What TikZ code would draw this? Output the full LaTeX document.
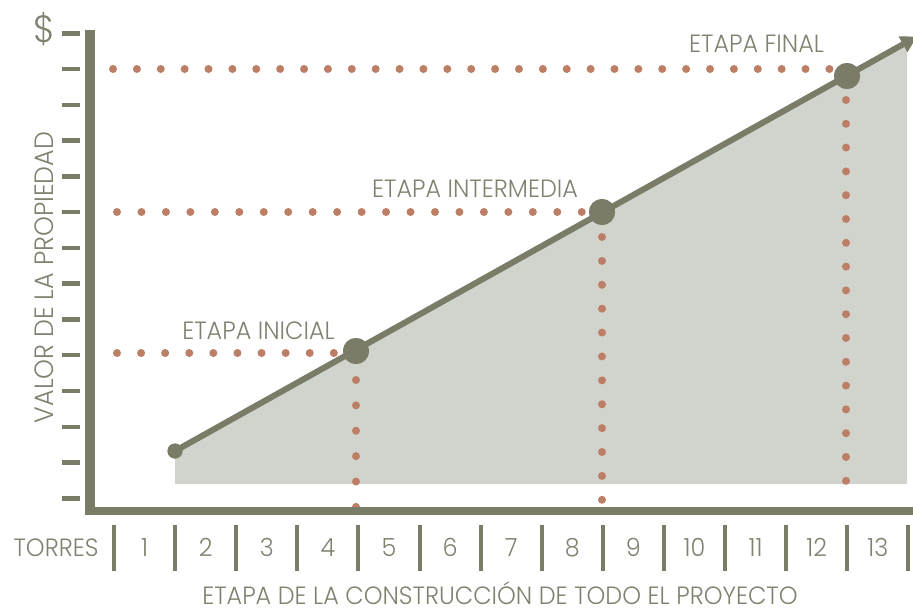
\documentclass[tikz,border=0pt]{standalone}
\usepackage{fontspec}
\setmainfont{Poppins Light}[FakeStretch=0.955]
\usetikzlibrary{arrows.meta}
\definecolor{olive}{RGB}{122,124,103}
\definecolor{dotc}{RGB}{188,127,102}
\definecolor{areac}{RGB}{209,212,205}
\definecolor{txt}{RGB}{128,130,112}
\begin{document}
\begin{tikzpicture}[x=1pt,y=-1pt,
  lbl/.style={text=txt,font=\fontsize{25}{25}\selectfont,inner sep=0pt,anchor=base},
  guide/.style={draw=dotc,line width=8pt,line cap=round,dash pattern=on 0pt off #1},
  bigdot/.style={circle,fill=olive,minimum size=26pt,inner sep=0pt},
  smalldot/.style={circle,fill=olive,minimum size=15pt,inner sep=0pt},
  trend/.style={draw=olive,line width=6pt,-{Triangle[length=16pt,width=17pt]}},
  bar/.style={fill=olive}
]
\useasboundingbox (0,0) rectangle (913,610);
% shaded area
\fill[areac] (175,451) -- (907,42.5) -- (907,484) -- (175,484) -- cycle;
% points
\node[smalldot] (start) at (175,451) {};
\node[bigdot] (ini) at (356,351) {};
\node[bigdot] (mid) at (602,212) {};
\node[bigdot] (fin) at (847,76) {};
\coordinate (tip) at (917,36.5);
% guide coordinates
\coordinate (h3a) at (113,69);  \coordinate (h3b) at (830,69);
\coordinate (h2a) at (117,212); \coordinate (h2b) at (582,212);
\coordinate (h1a) at (117,353); \coordinate (h1b) at (334,353);
\coordinate (v1a) at (356,380); \coordinate (v1b) at (356,507);
\coordinate (v2a) at (602,237); \coordinate (v2b) at (602,500);
\coordinate (v3a) at (846,100); \coordinate (v3b) at (846,481);
\draw[guide=23.88pt] (h3a) -- (h3b);
\draw[guide=24.46pt] (h2a) -- (h2b);
\draw[guide=24.09pt] (h1a) -- (h1b);
\draw[guide=25.38pt] (v1a) -- (v1b);
\draw[guide=23.89pt] (v2a) -- (v2b);
\draw[guide=23.8pt] (v3a) -- (v3b);
% trend line
\draw[trend] (start.center) -- (tip);
\node[bigdot] at (ini) {};
\node[bigdot] at (mid) {};
\node[bigdot] at (fin) {};
\node[smalldot] at (start) {};
% axes
\fill[bar] (85,30) rectangle (95,515);
\fill[bar] (85,507) rectangle (913,515);
\foreach \k in {0,...,13}
  \fill[bar] (62,{33.3+35.77*\k-2.25}) rectangle (80,{33.3+35.77*\k+2.25});
\foreach \k in {0,...,13}
  \fill[bar] ({114+61.1*\k-2},525) rectangle ({114+61.1*\k+2},571);
\foreach \k in {1,...,13}
  \node[lbl] (n\k) at ({114+61.1*(\k-0.5)},556) {\k};
% labels
\node[lbl] (torres) at (56,556) {TORRES};
\node[lbl] (lfin) at (756.5,53) {ETAPA FINAL};
\node[lbl] (lmid) at (475,197) {ETAPA INTERMEDIA};
\node[lbl] (lini) at (258.5,339) {ETAPA INICIAL};
\node[lbl,text depth=0pt] (xlab) at (500,604.5) {ETAPA DE LA CONSTRUCCIÓN DE TODO EL PROYECTO};
\node[lbl,font=\fontsize{26.5}{26.5}\selectfont,rotate=90] (ylab) at (53,277.5) {VALOR DE LA PROPIEDAD};
\node[text=txt,font=\fontsize{38}{38}\selectfont,inner sep=0pt] (dollar) at (44,29) {\$};
\end{tikzpicture}
\end{document}
